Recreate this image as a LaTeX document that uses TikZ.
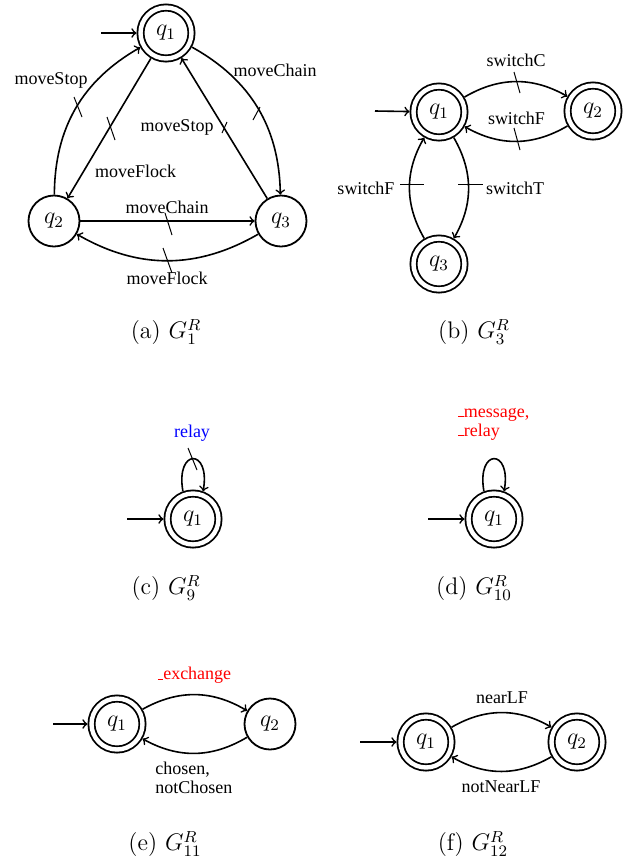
\documentclass[tikz,border=0pt]{standalone}
\usepackage{fontspec}
\newfontfamily\lblfont{Liberation Serif}
\newcommand\myus{\leavevmode\kern.06em\vbox{\hrule width.3em}}
\begin{document}
\begin{tikzpicture}[x=0.5pt,y=-0.5pt,
  st/.style={circle,draw,line width=0.9pt,minimum size=25.5pt,inner sep=0pt,outer sep=0.45pt,font=\fontsize{12}{14}\selectfont},
  acc/.style={st,double,double distance=2.2pt,outer sep=2pt},
  tr/.style={->,line width=0.8pt},
  lb/.style={font=\lblfont\fontsize{9}{9.5}\selectfont,inner sep=0pt},
  tk/.style={line width=0.5pt},
  captxt/.style={font=\fontsize{12}{14}\selectfont,inner sep=0pt}]
\useasboundingbox (0,0) rectangle (629,858);
% (a)
\node[acc] (a1) at (166,33) {$q_1$};
\node[st] (a2) at (54,221) {$q_2$};
\node[st] (a3) at (281,221) {$q_3$};
\coordinate (a0) at (101,33);
\draw[tr] (a0) -- (a1);
\draw[tr] (a1) to[bend left=30] (a3);
\draw[tr] (a2) to[bend left=30] (a1);
\draw[tr] (a1) -- (a2);
\draw[tr] (a3) -- (a1);
\draw[tr] (a2) -- (a3);
\draw[tr] (a3) to[bend left=30] (a2);
\node[lb] (la1) at (51,80) {moveStop};
\node[lb] (la2) at (275,70) {moveChain};
\node[lb] (la3) at (177,127) {moveStop};
\node[lb] (la4) at (135.5,171) {moveFlock};
\node[lb] (la5) at (167,207) {moveChain};
\node[lb] (la6) at (167,278) {moveFlock};
\draw[tk] (74,97) -- (82,117);
\draw[tk] (253,120) -- (260,107);
\draw[tk] (107,117) -- (115,140);
\draw[tk] (222,133) -- (227,122);
\draw[tk] (165,213) -- (172,235);
\draw[tk] (163,248) -- (172,273);
\node[captxt] (ca) at (166,332) {(a) $G_1^R$};
% (b)
\node[acc] (b1) at (439,112) {$q_1$};
\node[acc] (b2) at (593,111) {$q_2$};
\node[acc] (b3) at (439,264) {$q_3$};
\coordinate (b0) at (375,111);
\draw[tr] (b0) -- (b1);
\draw[tr] (b1) to[bend left=30] (b2);
\draw[tr] (b2) to[bend left=30] (b1);
\draw[tr] (b1) to[bend left=30] (b3);
\draw[tr] (b3) to[bend left=30] (b1);
\node[lb] (lb1) at (516,60) {switchC};
\node[lb] (lb2) at (516.5,118) {switchF};
\node[lb] (lb3) at (366,188) {switchF};
\node[lb] (lb4) at (515,188) {switchT};
\draw[tk] (514,72) -- (520,93);
\draw[tk] (514,128) -- (520,150);
\draw[tk] (400,184.3) -- (424,184.3);
\draw[tk] (458,184.3) -- (483,184.3);
\node[captxt] (cb) at (474,332) {(b) $G_3^R$};
% (c)
\node[acc] (c1) at (193,519) {$q_1$};
\coordinate (c0) at (127,519);
\draw[tr] (c0) -- (c1);
\draw[tr] (c1.110) to[out=100,in=80,distance=22pt] (c1.70);
\node[lb,text=blue] (lc) at (192,433) {relay};
\draw[tk] (188,448) -- (197,470);
\node[captxt] (cc) at (166,588) {(c) $G_9^R$};
% (d)
\node[acc] (d1) at (494,519) {$q_1$};
\coordinate (d0) at (428,519);
\draw[tr] (d0) -- (d1);
\draw[tr] (d1.110) to[out=100,in=80,distance=22pt] (d1.70);
\node[lb,text=red,align=left,anchor=west] (ld) at (457,424) {\myus message,\\\myus relay};
\node[captxt] (cd) at (474,588) {(d) $G_{10}^R$};
% (e)
\node[acc] (e1) at (117,724) {$q_1$};
\node[st] (e2) at (270,724) {$q_2$};
\coordinate (e0) at (53,724);
\draw[tr] (e0) -- (e1);
\draw[tr] (e1) to[bend left=30] (e2);
\draw[tr] (e2) to[bend left=30] (e1);
\node[lb,text=red] (le1) at (194,675) {\myus exchange};
\node[lb,align=left,anchor=west] (le2) at (155,777.5) {chosen,\\notChosen};
\node[captxt] (ce) at (165,844) {(e) $G_{11}^R$};
% (f)
\node[acc] (f1) at (426,742) {$q_1$};
\node[acc] (f2) at (577,742) {$q_2$};
\coordinate (f0) at (360,742);
\draw[tr] (f0) -- (f1);
\draw[tr] (f1) to[bend left=30] (f2);
\draw[tr] (f2) to[bend left=30] (f1);
\node[lb] (lf1) at (502,698) {nearLF};
\node[lb] (lf2) at (501,787) {notNearLF};
\node[captxt] (cf) at (473,844) {(f) $G_{12}^R$};
\end{tikzpicture}
\end{document}
